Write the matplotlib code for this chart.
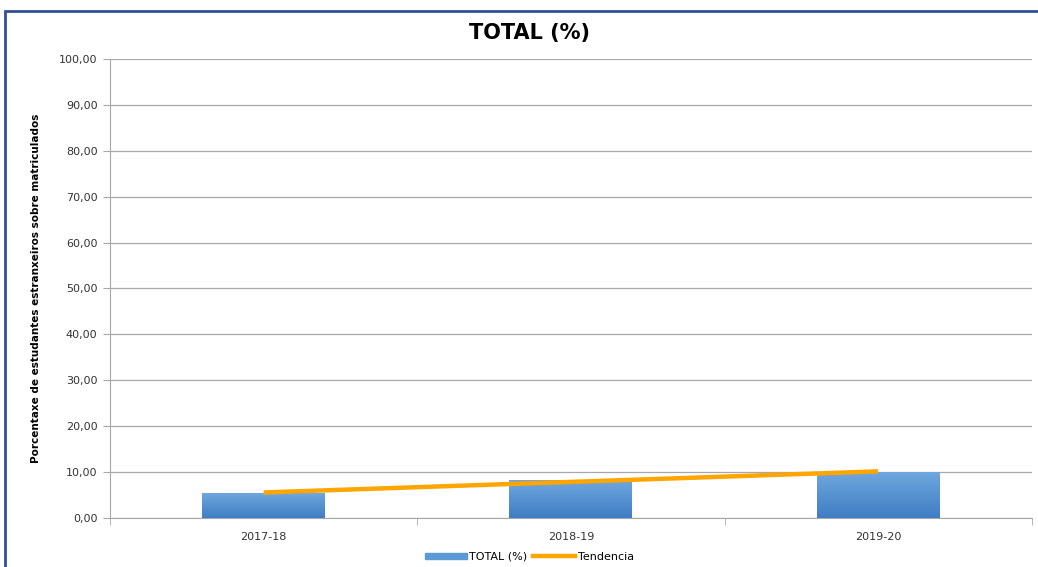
import numpy as np
import matplotlib
matplotlib.use("Agg")
import matplotlib.pyplot as plt
from matplotlib.patches import Rectangle
from matplotlib.lines import Line2D

# data
cursos = ["2017-18", "2018-19", "2019-20"]
total = [5.4, 8.2, 10.0]
yticks = [0, 10, 20, 30, 40, 50, 60, 70, 80, 90, 100]

x = np.arange(len(cursos))
# linear trend (like the Excel trendline)
coef = np.polyfit(x, total, 1)
tendencia = np.polyval(coef, x)

fig = plt.figure(figsize=(10.38, 5.67), dpi=100)
ax = fig.add_axes([0.106, 0.0864, 0.888, 0.8096])

bars = ax.bar(x, total, width=0.4, color="#5b9bd5", zorder=3)
ax.set_xlim(-0.5, 2.5)
ax.set_ylim(0, 100)

# vertical gradient on the bars: darker at the bottom
grad = np.linspace(0, 1, 100).reshape(-1, 1)
cmap = matplotlib.colors.LinearSegmentedColormap.from_list("b", ["#3f7dc4", "#6fa7dd"])
for b in bars:
    x0, y0 = b.get_x(), b.get_y()
    w, h = b.get_width(), b.get_height()
    im = ax.imshow(grad, extent=[x0, x0 + w, y0, y0 + h], cmap=cmap, aspect="auto",
                   zorder=3.5, origin="lower")
    im.set_clip_path(b)

ax.plot(x, tendencia, color="#ffa500", lw=3.2, solid_capstyle="butt", zorder=5)

ax.set_yticks(yticks)
ax.set_yticklabels([f"{v:.2f}".replace(".", ",") for v in yticks], fontsize=8, color="#333333")
ax.set_xticks(x)
ax.set_xticklabels(cursos, fontsize=8, color="#333333")
ax.set_xticks([-0.5, 0.5, 1.5, 2.5], minor=True)
ax.tick_params(axis="x", which="major", length=0, pad=10)
ax.tick_params(axis="x", which="minor", length=5, color="#a8a8a8")
ax.tick_params(axis="y", length=5, color="#a8a8a8", pad=4)

ax.grid(axis="y", color="#a8a8a8", lw=0.9, zorder=0)
ax.set_axisbelow(True)
for s in ["top", "right"]:
    ax.spines[s].set_visible(False)
ax.spines["left"].set_color("#a8a8a8")
ax.spines["bottom"].set_color("#a8a8a8")

ax.set_ylabel("Porcentaxe de estudantes estranxeiros sobre matriculados", fontsize=7.5,
              fontweight="bold", family=["Liberation Sans Narrow", "DejaVu Sans"])
ax.yaxis.set_label_coords(-0.075, 0.5)
fig.text(0.51, 0.942, "TOTAL (%)", fontsize=15, fontweight="bold", ha="center", va="center")

handles = [Rectangle((0, 0), 1, 1, color="#5b9bd5"),
           Line2D([0], [0], color="#ffa500", lw=3.2)]
fig.legend(handles, ["TOTAL (%)", "Tendencia"], loc="center", bbox_to_anchor=(0.51, 0.018),
           ncol=2, frameon=False, fontsize=8, handlelength=3.8, handleheight=0.5,
           columnspacing=0.5, handletextpad=0.2)

# chart border (only top and left edges are visible in the crop)
fig.patches.append(Rectangle((0.005, -0.05), 1.1, 0.9806 + 0.05, transform=fig.transFigure,
                             fill=False, edgecolor="#2f4f96", lw=2))

fig.savefig("out.png", dpi=100)
